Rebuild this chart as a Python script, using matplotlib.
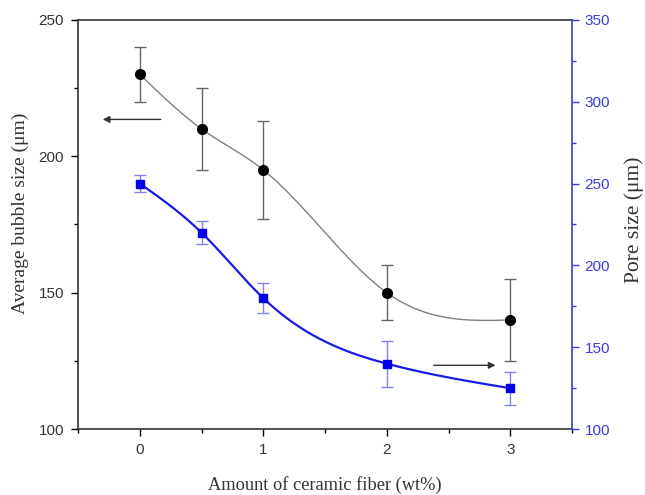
import numpy as np
import matplotlib
matplotlib.use("Agg")
import matplotlib.pyplot as plt
from matplotlib.ticker import MultipleLocator

# Data
fiber = [0, 0.5, 1, 2, 3]
bubble = [230, 210, 195, 150, 140]
bubble_err = [10, 15, 18, 10, 15]
pore = [250, 220, 180, 140, 125]
pore_err = [5, 7, 9, 14, 10]


def natural_spline(x, y, n=300):
    x = np.asarray(x, float)
    y = np.asarray(y, float)
    m = len(x)
    h = np.diff(x)
    A = np.zeros((m, m))
    b = np.zeros(m)
    A[0, 0] = 1
    A[-1, -1] = 1
    for i in range(1, m - 1):
        A[i, i - 1] = h[i - 1]
        A[i, i] = 2 * (h[i - 1] + h[i])
        A[i, i + 1] = h[i]
        b[i] = 6 * ((y[i + 1] - y[i]) / h[i] - (y[i] - y[i - 1]) / h[i - 1])
    M = np.linalg.solve(A, b)
    xs = np.linspace(x[0], x[-1], n)
    ys = np.empty_like(xs)
    for k, xv in enumerate(xs):
        i = min(np.searchsorted(x, xv, side="right") - 1, m - 2)
        t1 = x[i + 1] - xv
        t0 = xv - x[i]
        ys[k] = (M[i] * t1 ** 3 / (6 * h[i]) + M[i + 1] * t0 ** 3 / (6 * h[i])
                 + (y[i] / h[i] - M[i] * h[i] / 6) * t1
                 + (y[i + 1] / h[i] - M[i + 1] * h[i] / 6) * t0)
    return xs, ys


fig = plt.figure(figsize=(6.45, 4.95), dpi=100)
ax = fig.add_axes([0.121, 0.133, 0.766, 0.827])
ax2 = ax.twinx()

tick_font = "Liberation Sans"
label_font = "Liberation Serif"

# black series
xs, ys = natural_spline(fiber, bubble)
ax.plot(xs, ys, color="#808080", lw=1.0, zorder=2)
ax.errorbar(fiber, bubble, yerr=bubble_err, fmt="o", color="black", ms=7,
            ecolor="#666666", elinewidth=1.0, capsize=4, capthick=1.0, zorder=3)

# blue series
xs2, ys2 = natural_spline(fiber, pore)
ax2.plot(xs2, ys2, color="#1a1ae6", lw=1.6, zorder=2)
ax2.errorbar(fiber, pore, yerr=pore_err, fmt="s", color="#0000ee", ms=6,
             ecolor="#8080f0", elinewidth=1.0, capsize=4, capthick=1.0, zorder=3)

ax.set_xlim(-0.5, 3.5)
ax.set_ylim(100, 250)
ax2.set_ylim(100, 350)

ax.set_xticks([0, 1, 2, 3])
ax.xaxis.set_minor_locator(MultipleLocator(0.5))
ax.set_yticks([100, 150, 200, 250])
ax.yaxis.set_minor_locator(MultipleLocator(25))
ax2.set_yticks([100, 150, 200, 250, 300, 350])
ax2.yaxis.set_minor_locator(MultipleLocator(25))

ax.tick_params(which="major", direction="out", length=5, width=1.0, labelsize=11, pad=5)
ax.tick_params(which="minor", direction="out", length=3, width=1.0)
ax.tick_params(top=False, which="both")
ax2.tick_params(which="major", direction="out", length=5, width=1.0, labelsize=11,
                colors="#3a3ad8", pad=4)
ax2.tick_params(which="minor", direction="out", length=3, width=1.0, colors="#3a3ad8")

for lab in ax.get_xticklabels() + ax.get_yticklabels() + ax2.get_yticklabels():
    lab.set_fontfamily(tick_font)
for lab in ax.get_xticklabels() + ax.get_yticklabels():
    lab.set_color("#333333")

for s in ("left", "bottom", "top"):
    ax.spines[s].set_linewidth(1.2)
    ax.spines[s].set_color("#333333")
ax2.spines["right"].set_color("#3a3ad8")
ax2.spines["right"].set_linewidth(1.2)
ax.spines["right"].set_visible(False)
for s in ("left", "bottom", "top"):
    ax2.spines[s].set_visible(False)

ax.set_xlabel("Amount of ceramic fiber (wt%)", fontfamily=label_font, fontsize=13.2,
              color="#333333", labelpad=14)
ax.set_ylabel("Average bubble size (μm)", fontfamily=label_font, fontsize=14,
              color="#333333", labelpad=7)
ax2.set_ylabel("Pore size (μm)", fontfamily=label_font, fontsize=15.5,
               color="#333333", labelpad=10)
ax.yaxis.label.set_y(0.528)
ax2.yaxis.label.set_y(0.512)

# arrows
ax.annotate("", xy=(-0.3, 213.5), xytext=(0.17, 213.5),
            arrowprops=dict(arrowstyle="-|>", color="#333333", lw=1.0,
                            mutation_scale=10, shrinkA=0, shrinkB=0))
ax2.annotate("", xy=(2.88, 139), xytext=(2.38, 139),
             arrowprops=dict(arrowstyle="-|>", color="#333333", lw=1.0,
                             mutation_scale=10, shrinkA=0, shrinkB=0))

fig.savefig("out.png", dpi=100)
